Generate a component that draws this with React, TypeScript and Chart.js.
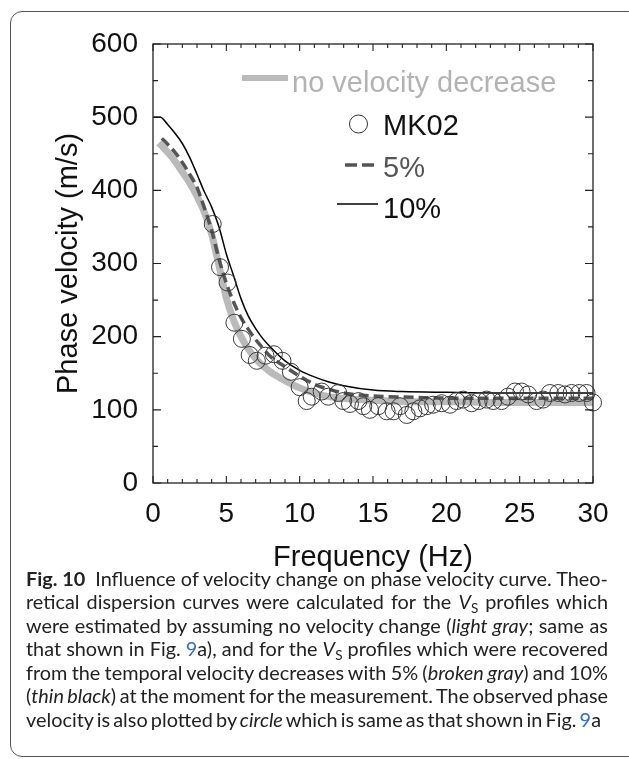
import React, { useEffect, useLayoutEffect, useRef } from 'react';
import { Chart, registerables } from 'chart.js';

Chart.register(...registerables);

// ---- Data ----
const obsFreq = [4.07, 4.57, 5.08, 5.55, 6.06, 6.59, 7.08, 7.67, 8.24, 8.83, 9.4, 10.0, 10.48, 10.82, 11.5, 11.95, 12.63, 12.97, 13.43, 14.0, 14.34, 14.79, 15.36, 15.93, 16.4, 16.84, 17.3, 17.75, 18.2, 18.66, 19.1, 19.68, 20.25, 20.7, 21.15, 21.72, 22.2, 22.75, 23.2, 23.77, 24.2, 24.68, 25.13, 25.58, 26.15, 26.6, 27.06, 27.63, 28.09, 28.54, 29.06, 29.56, 30.0];
const obsVel = [354, 295, 274, 219, 197, 175, 167, 174, 176, 167, 152, 131, 112, 118, 125, 118, 123, 112, 108, 112, 105, 100, 105, 98, 98, 105, 93, 98, 102, 105, 107, 109, 107, 112, 114, 109, 112, 114, 112, 112, 118, 125, 125, 121, 112, 114, 123, 123, 121, 123, 123, 123, 110];

const noDecFreq = [0.4, 1, 1.5, 2, 2.5, 3, 3.5, 4, 4.5, 5, 5.5, 6, 6.5, 7, 7.5, 8, 9, 10, 11, 12, 14, 16, 18, 20, 25, 30];
const noDecVel = [465, 452, 440, 425, 410, 392, 370, 340, 297, 253, 222, 200, 183, 170, 160, 152, 140, 130, 123, 118, 114, 112, 111, 111, 110, 110];

const dec5Freq = [0.6, 1, 1.5, 2, 2.5, 3, 3.5, 4, 4.5, 5, 5.5, 6, 6.5, 7, 7.5, 8, 9, 10, 11, 12, 13, 15, 18, 20, 25, 30];
const dec5Vel = [471, 463, 452, 438, 422, 404, 376, 345, 306, 273, 247, 226, 210, 196, 184, 173, 159, 146, 135, 128, 123, 119, 117, 116, 116, 116];

const dec10Freq = [0.05, 0.5, 1, 1.5, 2, 2.5, 3, 3.5, 4, 4.5, 5, 5.5, 6, 6.5, 7, 7.5, 8, 9, 10, 11, 12, 13, 15, 17, 20, 25, 30];
const dec10Vel = [500, 500, 490, 478, 464, 445, 422, 398, 377, 350, 313, 283, 252, 228, 211, 197, 186, 167, 154, 145, 138, 133, 127, 125, 124, 123, 123];

const xTickValues = [0, 5, 10, 15, 20, 25, 30];
const yTickValues = [0, 100, 200, 300, 400, 500, 600];

const legendLabels = ['no velocity decrease', 'MK02', '5%', '10%'];

const FONT = "'Liberation Sans', Arial, Helvetica, sans-serif";
const GRAY = '#bababa';
const DARK = '#555555';

const toPts = (xs: number[], ys: number[]) => xs.map((x, i) => ({ x, y: ys[i] }));

const framePlugin = {
  id: 'frameTicks',
  afterDatasetsDraw(chart: any) {
    const { ctx, chartArea: a, scales } = chart;
    const xs = scales.x;
    const ys = scales.y;
    ctx.save();
    ctx.strokeStyle = '#222';
    ctx.lineWidth = 1.3;
    ctx.strokeRect(a.left, a.top, a.right - a.left, a.bottom - a.top);
    ctx.lineWidth = 1.1;
    ctx.beginPath();
    for (let v = 0; v <= 30; v += 1) {
      const px = xs.getPixelForValue(v);
      const len = v % 5 === 0 ? 7 : 4;
      ctx.moveTo(px, a.bottom);
      ctx.lineTo(px, a.bottom - len);
      ctx.moveTo(px, a.top);
      ctx.lineTo(px, a.top + len);
    }
    for (let v = 0; v <= 600; v += 50) {
      const py = ys.getPixelForValue(v);
      const len = v % 100 === 0 ? 8 : 5;
      ctx.moveTo(a.left, py);
      ctx.lineTo(a.left + len, py);
      ctx.moveTo(a.right, py);
      ctx.lineTo(a.right - len, py);
    }
    ctx.stroke();
    ctx.restore();
  },
};

const legendPlugin = {
  id: 'customLegend',
  afterDatasetsDraw(chart: any) {
    const { ctx, chartArea: a } = chart;
    const L = a.left;
    const T = a.top;
    ctx.save();
    ctx.font = `29px ${FONT}`;
    ctx.textBaseline = 'alphabetic';
    ctx.textAlign = 'left';
    // no velocity decrease
    ctx.strokeStyle = GRAY;
    ctx.lineWidth = 6;
    ctx.beginPath();
    ctx.moveTo(L + 89, T + 34);
    ctx.lineTo(L + 135, T + 34);
    ctx.stroke();
    ctx.fillStyle = '#b3b3b3';
    ctx.fillText(legendLabels[0], L + 139, T + 47.5);
    // MK02
    ctx.strokeStyle = '#333';
    ctx.lineWidth = 1;
    ctx.beginPath();
    ctx.arc(L + 205.5, T + 80, 9, 0, Math.PI * 2);
    ctx.stroke();
    ctx.fillStyle = '#111';
    ctx.fillText(legendLabels[1], L + 230, T + 91);
    // 5%
    ctx.strokeStyle = DARK;
    ctx.lineWidth = 3.5;
    ctx.setLineDash([12, 5]);
    ctx.beginPath();
    ctx.moveTo(L + 192, T + 121);
    ctx.lineTo(L + 226, T + 121);
    ctx.stroke();
    ctx.setLineDash([]);
    ctx.fillStyle = DARK;
    ctx.fillText(legendLabels[2], L + 230, T + 132.7);
    // 10%
    ctx.strokeStyle = '#000';
    ctx.lineWidth = 1.3;
    ctx.beginPath();
    ctx.moveTo(L + 184, T + 160);
    ctx.lineTo(L + 225, T + 160);
    ctx.stroke();
    ctx.fillStyle = '#111';
    ctx.fillText(legendLabels[3], L + 230, T + 174.3);
    ctx.restore();
  },
};

function ChartCanvas() {
  const ref = useRef<HTMLCanvasElement | null>(null);
  useEffect(() => {
    if (!ref.current) return;
    const tickFont = { family: FONT, size: 28 };
    const titleFont = { family: FONT, size: 29 };
    const chart = new Chart(ref.current, {
      type: 'scatter',
      data: {
        datasets: [
          {
            label: legendLabels[1],
            data: toPts(obsFreq, obsVel),
            showLine: false,
            pointRadius: 8.5,
            pointBorderColor: '#3a3a3a',
            pointBorderWidth: 1,
            pointBackgroundColor: 'rgba(0,0,0,0)',
            clip: false as any,
            order: 1,
          },
          {
            label: legendLabels[3],
            data: toPts(dec10Freq, dec10Vel),
            showLine: true,
            borderColor: '#000',
            borderWidth: 1.5,
            pointRadius: 0,
            cubicInterpolationMode: 'monotone',
            order: 2,
          },
          {
            label: legendLabels[2],
            data: toPts(dec5Freq, dec5Vel),
            showLine: true,
            borderColor: DARK,
            borderWidth: 3.5,
            borderDash: [10, 5],
            pointRadius: 0,
            cubicInterpolationMode: 'monotone',
            order: 3,
          },
          {
            label: legendLabels[0],
            data: toPts(noDecFreq, noDecVel),
            showLine: true,
            borderColor: GRAY,
            borderWidth: 7,
            pointRadius: 0,
            cubicInterpolationMode: 'monotone',
            order: 4,
          },
        ] as any,
      },
      options: {
        responsive: false,
        animation: false,
        layout: { padding: { left: 0, right: 36, top: 44, bottom: 0 } },
        plugins: { legend: { display: false }, tooltip: { enabled: false } },
        scales: {
          x: {
            type: 'linear',
            position: 'bottom',
            min: 0,
            max: 30,
            afterBuildTicks: (s: any) => {
              s.ticks = xTickValues.map((v) => ({ value: v }));
            },
            ticks: { font: tickFont, color: '#111', padding: 14, maxRotation: 0, autoSkip: false },
            grid: { display: false, drawTicks: false },
            border: { display: false },
            title: { display: true, text: 'Frequency (Hz)', font: titleFont, color: '#111', padding: { top: 0, bottom: 0 } },
            afterFit: (s: any) => {
              s.height = 92;
            },
          },
          y: {
            type: 'linear',
            min: 0,
            max: 600,
            afterBuildTicks: (s: any) => {
              s.ticks = yTickValues.map((v) => ({ value: v }));
            },
            ticks: { font: tickFont, color: '#111', padding: 15, autoSkip: false },
            grid: { display: false, drawTicks: false },
            border: { display: false },
            title: { display: true, text: 'Phase velocity (m/s)', font: titleFont, color: '#111', padding: { top: 52, bottom: 0 } },
            afterFit: (s: any) => {
              s.width = 153;
            },
          },
        },
      } as any,
      plugins: [framePlugin, legendPlugin],
    });
    return () => chart.destroy();
  }, []);
  return (
    <canvas
      ref={ref}
      width={629}
      height={575}
      style={{ position: 'absolute', left: 0, top: 0, width: 629, height: 575 }}
    />
  );
}

const CAP_W = 582;
const LAST_W = 575;

function Vs() {
  return (
    <>
      <i>V</i>
      <span style={{ fontSize: '0.68em', position: 'relative', top: '0.28em' }}>S</span>
    </>
  );
}

const Blue9 = () => <span style={{ color: '#2f6fd0' }}>9</span>;

function Caption() {
  const refs = useRef<(HTMLDivElement | null)[]>([]);
  const lines: React.ReactNode[] = [
    <>
      <b>Fig. 10</b>
      {'\u2002'}Influence of velocity change on phase velocity curve. Theo-
    </>,
    <>
      retical dispersion curves were calculated for the <Vs /> profiles which
    </>,
    <>
      were estimated by assuming no velocity change (<i>light gray</i>; same as
    </>,
    <>
      that shown in Fig. <Blue9 />a), and for the <Vs /> profiles which were recovered
    </>,
    <>
      from the temporal velocity decreases with 5% (<i>broken gray</i>) and 10%
    </>,
    <>
      (<i>thin black</i>) at the moment for the measurement. The observed phase
    </>,
    <>
      velocity is also plotted by <i>circle</i> which is same as that shown in Fig. <Blue9 />a
    </>,
  ];
  useLayoutEffect(() => {
    const els = refs.current;
    const widths = els.map((el) => (el ? el.getBoundingClientRect().width : 0));
    const full = widths.slice(0, 6);
    const k = full.reduce((s, w) => s + CAP_W / w, 0) / full.length;
    els.forEach((el, i) => {
      if (!el) return;
      const target = i < 6 ? CAP_W : LAST_W;
      const spaces = (el.textContent || '').split(' ').length - 1;
      const extra = (target / k - widths[i]) / Math.max(spaces, 1);
      el.style.wordSpacing = `${extra}px`;
      el.style.transform = `scaleX(${k})`;
    });
  }, []);
  return (
    <div
      style={{
        position: 'absolute',
        left: 25.5,
        top: 567.5,
        fontFamily: "Lato, 'Open Sans', sans-serif",
        fontSize: 18.5,
        lineHeight: '23.5px',
        color: '#222',
      }}
    >
      {lines.map((ln, i) => (
        <div key={i} style={{ height: 23.5 }}>
          <div
            ref={(el) => {
              refs.current[i] = el;
            }}
            style={{ display: 'inline-block', whiteSpace: 'nowrap', transformOrigin: 'left center' }}
          >
            {ln}
          </div>
        </div>
      ))}
    </div>
  );
}

export default function App() {
  return (
    <div style={{ position: 'absolute', left: 0, top: 0, width: 629, height: 759, overflow: 'hidden', background: '#fff' }}>
      <div
        style={{
          position: 'absolute',
          left: 10,
          top: 11,
          width: 630,
          height: 746,
          border: '1px solid #555',
          borderRadius: 12,
          boxSizing: 'border-box',
        }}
      />
      <ChartCanvas />
      <Caption />
    </div>
  );
}
